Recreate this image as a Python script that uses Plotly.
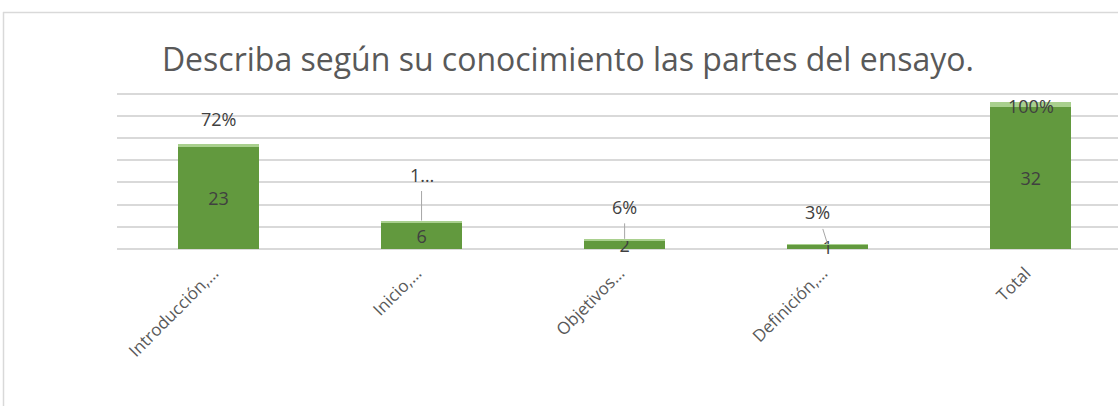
import plotly.graph_objects as go

categories = ["Introducción,…", "Inicio,…", "Objetivos…", "Definición,…", "Total"]
counts = [23, 6, 2, 1, 32]
pcts = [0.72, 0.19, 0.06, 0.03, 1.00]
pct_labels = ["72%", "1…", "6%", "3%", "100%"]
title = "Describa según su conocimiento las partes del ensayo."

# label placement (pixels) for percentage labels
lab_dx = [0, 0, 0, -10, 0]
lab_dy = [-25, -47, -33, -32, 4]
leader = [False, True, True, True, False]

DARK = "#62993E"
LIGHT = "#A9D08E"
TXT = "#404040"
FONT = "Open Sans"

fig = go.Figure()
fig.add_trace(go.Bar(
    x=categories, y=counts, marker=dict(color=DARK, line=dict(width=0)),
    text=[str(c) for c in counts], textposition="inside", insidetextanchor="middle",
    textangle=0, constraintext="none", textfont=dict(family=FONT, size=18, color=TXT),
    cliponaxis=False, showlegend=False, hoverinfo="skip",
))
fig.add_trace(go.Bar(
    x=categories, y=pcts, marker=dict(color=LIGHT, line=dict(width=0)),
    showlegend=False, hoverinfo="skip",
))

for i, c in enumerate(categories):
    top = counts[i] + pcts[i]
    if leader[i]:
        fig.add_annotation(x=c, y=top, xref="x", yref="y", text=pct_labels[i],
                           showarrow=True, ax=lab_dx[i], ay=lab_dy[i], arrowhead=0,
                           arrowwidth=1, arrowcolor="#A6A6A6", standoff=1, borderpad=4,
                           font=dict(family=FONT, size=18, color=TXT))
    else:
        fig.add_annotation(x=c, y=top, xref="x", yref="y", text=pct_labels[i],
                           showarrow=False, xshift=lab_dx[i], yshift=-lab_dy[i],
                           font=dict(family=FONT, size=18, color=TXT))

# layout geometry
L, R, T, B = 117, 0, 91, 157
W, H = 1118, 406
pw, ph = W - L - R, H - T - B
Y_TOP = 35 * ph / 155.4

def px(x):
    return (x - L) / pw
def py(y):
    return (H - B - y) / ph

# outer chart border (top and left)
fig.add_shape(type="line", xref="paper", yref="paper", x0=px(3), x1=px(1118), y0=py(12.5), y1=py(12.5),
              line=dict(color="#D9D9D9", width=1.5))
fig.add_shape(type="line", xref="paper", yref="paper", x0=px(3.5), x1=px(3.5), y0=py(12), y1=py(406),
              line=dict(color="#D9D9D9", width=1.5))

fig.update_layout(
    width=W, height=H,
    margin=dict(l=L, r=R, t=T, b=B, autoexpand=False),
    barmode="stack", bargap=0.6,
    plot_bgcolor="white", paper_bgcolor="white",
    title=dict(text=title, x=0.508, xanchor="center", y=1 - 60 / H, yanchor="middle",
               font=dict(family=FONT, size=32, color="#595959")),
    xaxis=dict(range=[-0.5, 4.43], tickangle=-45, showgrid=False, showline=False,
               ticks="", tickfont=dict(family=FONT, size=17, color="#595959"),
               ticklabelstandoff=10, ticklabelshift=-5, automargin=False),
    yaxis=dict(range=[0, Y_TOP], tickvals=[0, 5, 10, 15, 20, 25, 30, 35], showgrid=True,
               gridcolor="#D9D9D9", gridwidth=1.5,
               zeroline=True, zerolinecolor="#D9D9D9", zerolinewidth=1.5,
               showticklabels=False, ticks="", automargin=False),
)

fig.write_html("out.html", config={"displayModeBar": False},
               post_script="document.body.style.margin='0';document.body.style.overflow='hidden';")
